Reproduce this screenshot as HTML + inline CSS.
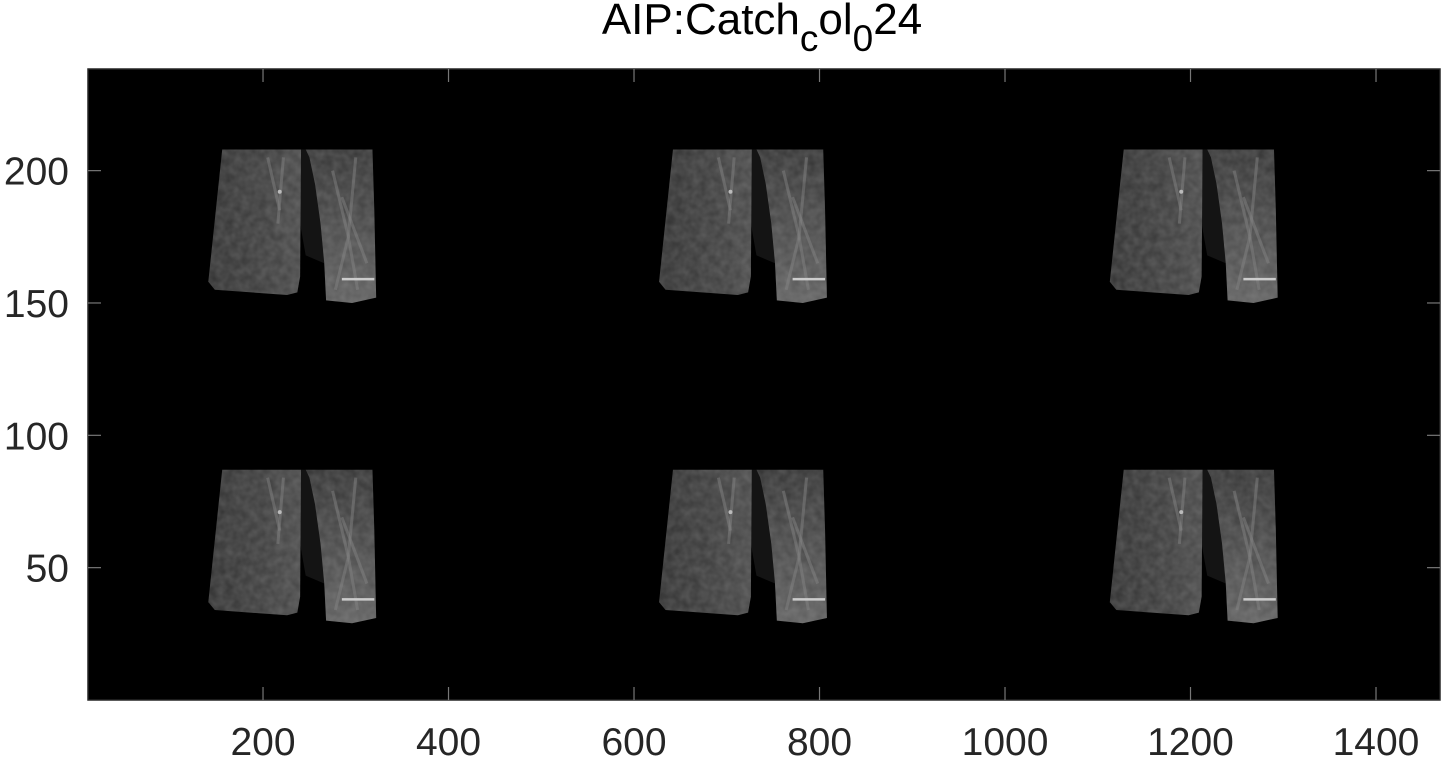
<!DOCTYPE html>
<html><head><meta charset="utf-8"><style>
html,body{margin:0;padding:0;background:#fff;}
svg{display:block;font-family:"Liberation Sans",Arial,sans-serif;}
</style></head><body>
<svg id="chart" width="1447" height="761">
<defs>
<linearGradient id="gL" x1="0" y1="0" x2="1" y2="0">
<stop offset="0" stop-color="#303030"/><stop offset="0.6" stop-color="#3c3c3c"/><stop offset="1" stop-color="#484848"/></linearGradient>
<linearGradient id="gR" x1="0" y1="0" x2="0" y2="1">
<stop offset="0" stop-color="#333"/><stop offset="0.5" stop-color="#484848"/><stop offset="1" stop-color="#5e5e5e"/></linearGradient>
<filter id="tex"><feTurbulence type="fractalNoise" baseFrequency="0.12" numOctaves="2" seed="3"/><feColorMatrix type="matrix" values="0 0 0 0 0.6 0 0 0 0 0.6 0 0 0 0 0.6 0 0 0 0.7 0"/><feComposite in2="SourceGraphic" operator="in"/></filter>
</defs>
<rect x="88" y="69" width="1352" height="631" fill="#000"/>
<g id="tiles"></g>
<rect x="88" y="69" width="1352" height="631" fill="none" stroke="#262626" stroke-width="1.5"/>
<g id="ticks"></g>
<text x="762" y="34" text-anchor="middle" font-size="44" fill="#000">AIP:Catch<tspan font-size="37" dy="17">c</tspan><tspan font-size="44" dy="-17">ol</tspan><tspan font-size="37" dy="17">0</tspan><tspan font-size="44" dy="-17">24</tspan></text>
</svg>
<script>
const xTicks=[200,400,600,800,1000,1200,1400];
const yTicks=[50,100,150,200];
const tileX=[0,486,972];
const tileY=[0,-121];
const xMin=11.3,xMax=1469,yMin=0,yMax=238.4;
const L=88,R=1440,T=69,B=700;
const sx=v=>L+(v-xMin)/(xMax-xMin)*(R-L);
const sy=v=>B-(v-yMin)/(yMax-yMin)*(B-T);
const NS="http://www.w3.org/2000/svg";
function mk(t,a,p){const e=document.createElementNS(NS,t);for(const k in a)e.setAttribute(k,a[k]);p.appendChild(e);return e;}
const tk=document.getElementById('ticks');
xTicks.forEach(v=>{
 const x=sx(v);
 mk('line',{x1:x,y1:B,x2:x,y2:B-13,stroke:'#777','stroke-width':1.2},tk);
 mk('line',{x1:x,y1:T,x2:x,y2:T+13,stroke:'#777','stroke-width':1.2},tk);
 const t=mk('text',{x:x,y:B+55,'text-anchor':'middle','font-size':39,fill:'#262626'},tk);
 t.textContent=v;
 
 
});
yTicks.forEach(v=>{
 const y=sy(v);
 mk('line',{x1:L,y1:y,x2:L+13,y2:y,stroke:'#777','stroke-width':1.2},tk);
 mk('line',{x1:R,y1:y,x2:R-13,y2:y,stroke:'#777','stroke-width':1.2},tk);
 const t=mk('text',{x:L-19,y:y+14,'text-anchor':'end','font-size':39,fill:'#262626'},tk);
 t.textContent=v;
 
 
});
const leftLung=[[156,208],[241,208],[240,160],[237,154],[226,153],[148,155],[141,158]];
const rightLung=[[246,208],[318,208],[320,185],[322,152],[296,150],[268,151],[266,165],[262,180],[256,195],[250,205]];
const mediast=[[241,208],[246,208],[250,205],[256,195],[262,180],[266,165],[246,168],[240,180]];
const tiles=document.getElementById('tiles');
function poly(pts,dx,dy){return pts.map(p=>sx(p[0]+dx)+','+sy(p[1]+dy)).join(' ');}
tileY.forEach(dy=>tileX.forEach(dx=>{
 const g=mk('g',{},tiles);
 
 
 mk('polygon',{points:poly(mediast,dx,dy),fill:'#141414'},g);
 mk('polygon',{points:poly(leftLung,dx,dy),fill:'url(#gL)'},g);
 mk('polygon',{points:poly(rightLung,dx,dy),fill:'url(#gR)'},g);
 mk('polygon',{points:poly(leftLung,dx,dy),fill:'#fff',filter:'url(#tex)',opacity:0.35},g);
 mk('polygon',{points:poly(rightLung,dx,dy),fill:'#fff',filter:'url(#tex)',opacity:0.35},g);
 [[[205,205],[218,185]],[[222,205],[216,180]],[[300,205],[292,175]],[[292,175],[302,155]],[[292,175],[278,155]],[[285,190],[312,165]],[[275,200],[292,175]]].forEach(s=>{
  mk('line',{x1:sx(s[0][0]+dx),y1:sy(s[0][1]+dy),x2:sx(s[1][0]+dx),y2:sy(s[1][1]+dy),stroke:'#888','stroke-width':3,opacity:0.45},g);
 });
 mk('line',{x1:sx(285+dx),y1:sy(159+dy),x2:sx(320+dx),y2:sy(159+dy),stroke:'#ccc','stroke-width':2.5},g);
 mk('circle',{cx:sx(218+dx),cy:sy(192+dy),r:2,fill:'#bbb'},g);
}));
</script>
</body></html>
